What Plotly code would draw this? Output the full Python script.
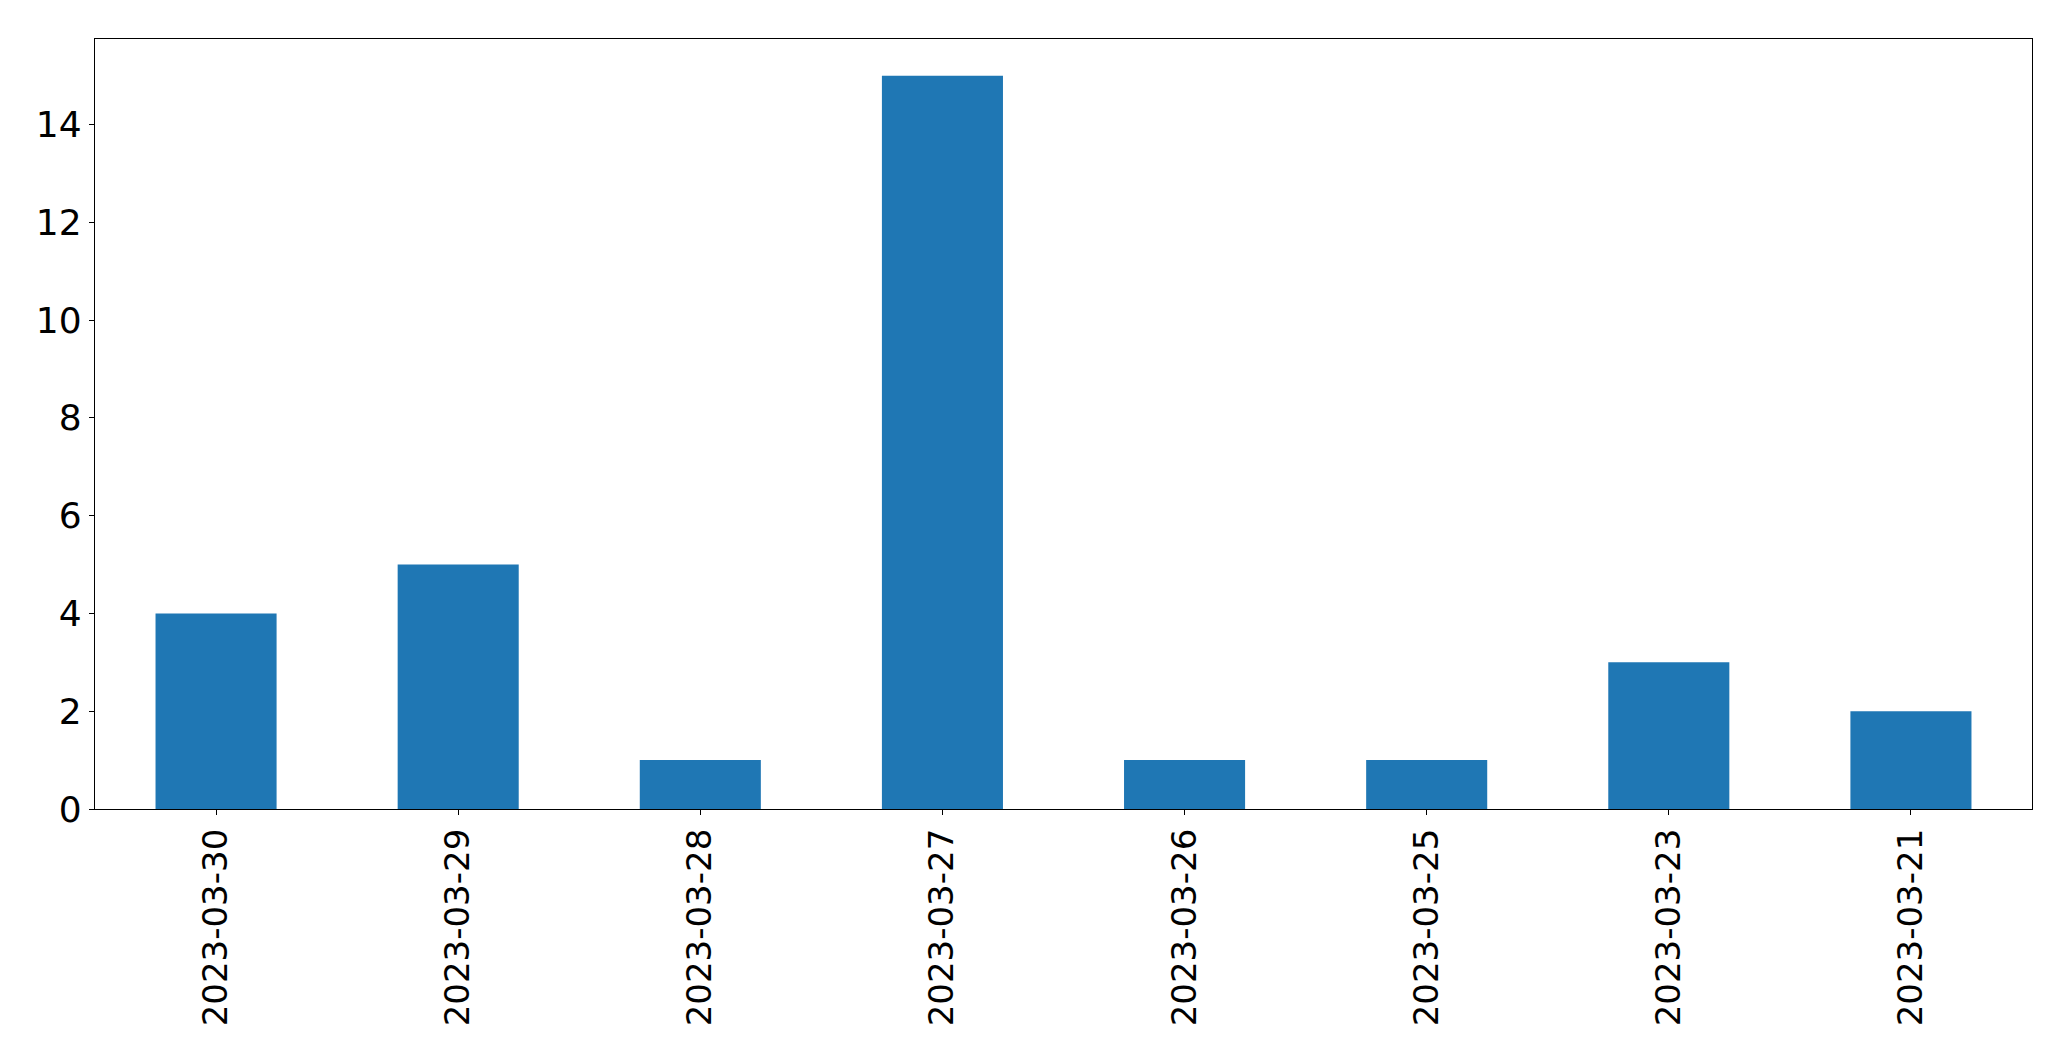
import plotly.graph_objects as go

dates = ['2023-03-30', '2023-03-29', '2023-03-28', '2023-03-27',
         '2023-03-26', '2023-03-25', '2023-03-23', '2023-03-21']
counts = [4, 5, 1, 15, 1, 1, 3, 2]

fig = go.Figure(go.Bar(x=dates, y=counts, marker_color='#1f77b4',
                       marker_line_width=0))

# page body has an 8px margin, so the figure is shrunk to fit the window
fig.update_layout(
    width=2055, height=1045,
    margin=dict(l=87, r=31, t=31, b=244),
    plot_bgcolor='white', paper_bgcolor='white',
    font=dict(family='DejaVu Sans', size=36, color='black'),
    bargap=0.5, showlegend=False,
)
fig.update_xaxes(type='category', range=[-0.5, 7.5], tickangle=-90,
                 tickfont_size=34,
                 showline=True, mirror=True, linecolor='black', linewidth=1.3,
                 ticks='outside', ticklen=5, tickcolor='black', showgrid=False)
fig.update_yaxes(range=[0, 15.75], tickvals=[0, 2, 4, 6, 8, 10, 12, 14],
                 showline=True, mirror=True, linecolor='black', linewidth=1.3,
                 ticks='outside', ticklen=5, tickcolor='black', showgrid=False,
                 zeroline=False)

fig.write_html("out.html")
